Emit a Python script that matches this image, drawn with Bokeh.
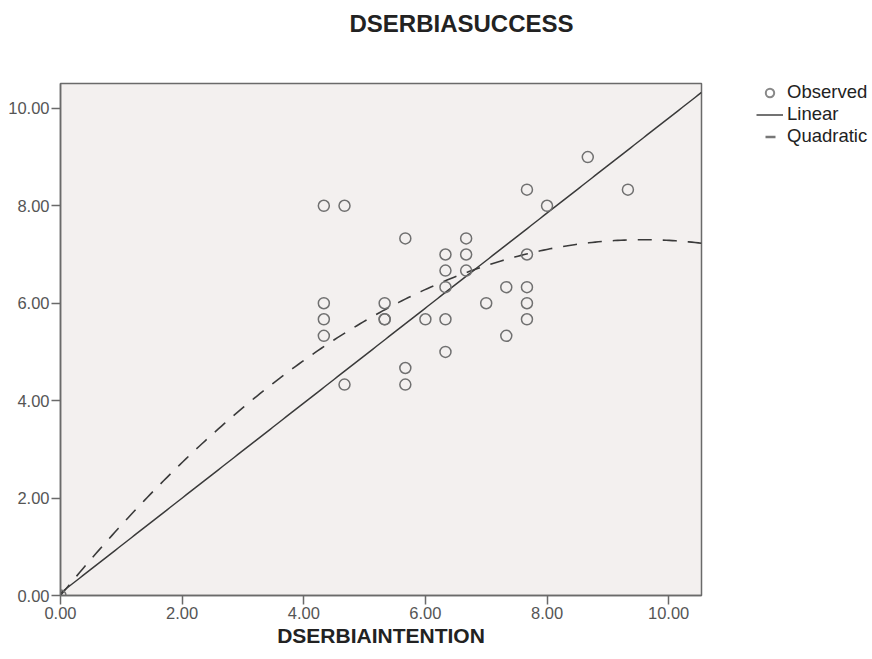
import numpy as np
from bokeh.plotting import figure
from bokeh.models import (ColumnDataSource, Range1d, FixedTicker, NumeralTickFormatter,
                          Legend, LegendItem, Title)
from bokeh.embed import file_html
from bokeh.resources import INLINE

# Observed data (DSERBIAINTENTION, DSERBIASUCCESS)
intention = [0.00, 4.33, 4.67, 4.33, 4.33, 4.33, 4.67, 5.33, 5.33, 5.33, 5.67, 5.67, 5.67,
             6.00, 6.33, 6.33, 6.33, 6.33, 6.33, 6.67, 6.67, 6.67, 7.00, 7.33, 7.33,
             7.67, 7.67, 7.67, 7.67, 7.67, 8.00, 8.67, 9.33]
success = [0.00, 8.00, 8.00, 6.00, 5.67, 5.33, 4.33, 6.00, 5.67, 5.67, 7.33, 4.67, 4.33,
           5.67, 7.00, 6.67, 6.33, 5.67, 5.00, 7.33, 7.00, 6.67, 6.00, 6.33, 5.33,
           8.33, 7.00, 6.33, 6.00, 5.67, 8.00, 9.00, 8.33]

# Fitted model coefficients
linear_coef = [0.05, 0.975]            # b0, b1
quadratic_coef = [0.0, 1.524, -0.0795]  # b0, b1, b2

x_ticks = [0, 2, 4, 6, 8, 10]
y_ticks = [0, 2, 4, 6, 8, 10]

FONT = "Liberation Sans"
FRAME_COL = "#6a6a6a"

main_title = Title(text="DSERBIASUCCESS", align="left", offset=289,
                   text_font=FONT, text_font_size="24px", text_font_style="bold",
                   text_color="#222222", standoff=14)

p = figure(width=872, height=655, output_backend="svg", toolbar_location=None,
           x_range=Range1d(0, 10.54), y_range=Range1d(0, 10.51),
           min_border_left=60, min_border_top=82, min_border_right=171, min_border_bottom=57,
           frame_width=641, frame_height=512, title=main_title)
p.background_fill_color = "#f3f0ef"
p.border_fill_color = "white"
p.outline_line_color = FRAME_COL
p.outline_line_width = 1.5
p.grid.visible = False

# empty spacer between the title and the frame
spacer = Title(text=" ", text_font_size="1px", standoff=37)
p.add_layout(spacer, "above")

for ax in (p.xaxis[0], p.yaxis[0]):
    ax.ticker = FixedTicker(ticks=x_ticks)
    ax.formatter = NumeralTickFormatter(format="0.00")
    ax.major_label_text_font = FONT
    ax.major_label_text_font_size = "16.5px"
    ax.major_label_text_color = "#555555"
    ax.axis_line_color = FRAME_COL
    ax.axis_line_width = 1.5
    ax.major_tick_line_color = FRAME_COL
    ax.major_tick_line_width = 1.5
    ax.major_tick_out = 9
    ax.major_tick_in = 0
    ax.minor_tick_line_color = None
p.yaxis[0].ticker = FixedTicker(ticks=y_ticks)
p.yaxis[0].major_label_standoff = 2
p.xaxis[0].major_label_standoff = 2
p.xaxis[0].axis_label = "DSERBIAINTENTION"
p.xaxis[0].axis_label_text_font = FONT
p.xaxis[0].axis_label_text_font_size = "21px"
p.xaxis[0].axis_label_text_font_style = "bold"
p.xaxis[0].axis_label_text_color = "#222222"
p.xaxis[0].axis_label_standoff = 2

xs = np.linspace(0, 10.54, 200)
lin_y = linear_coef[0] + linear_coef[1] * xs
quad_y = quadratic_coef[0] + quadratic_coef[1] * xs + quadratic_coef[2] * xs ** 2

p.line(xs, quad_y, line_color="#3a3a3a", line_width=1.6, line_dash="14 11")
p.line(xs, lin_y, line_color="#3a3a3a", line_width=1.5)

src = ColumnDataSource(dict(x=intention, y=success))
p.scatter("x", "y", source=src, marker="circle", size=11, fill_color=None,
          line_color="#707070", line_width=1.5)

# legend proxies (placed outside the visible range)
off = [-50.0, -49.0]
r_obs = p.scatter(off[:1], off[:1], marker="circle", size=9, fill_color=None,
                  line_color="#888888", line_width=2)
r_lin = p.line(off, off, line_color="#444444", line_width=1.5)
r_quad = p.line(off, off, line_color="#777777", line_width=2.5, line_dash="10 17",
                line_dash_offset=18)

legend = Legend(items=[LegendItem(label="Observed", renderers=[r_obs]),
                       LegendItem(label="Linear", renderers=[r_lin]),
                       LegendItem(label="Quadratic", renderers=[r_quad])],
                location=(55, 448), padding=0, margin=0, spacing=0,
                glyph_width=27, glyph_height=21, label_height=21, label_standoff=4,
                label_text_font=FONT, label_text_font_size="18.5px", label_text_color="#222222",
                border_line_color=None, background_fill_alpha=0)
p.add_layout(legend, "right")

open("out.html", "w").write(file_html(p, INLINE))
